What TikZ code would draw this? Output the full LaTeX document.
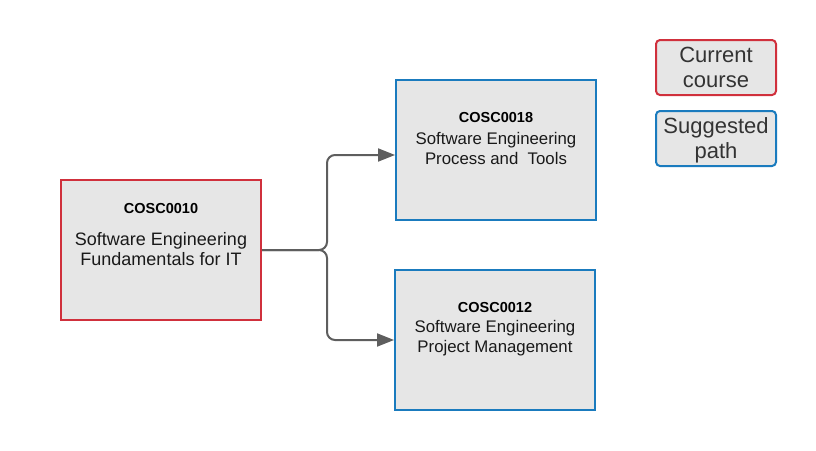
\documentclass[tikz,border=0pt]{standalone}
\usepackage{fontspec}
\setmainfont{Liberation Sans}
\usepackage{tikz}
\usetikzlibrary{arrows.meta}
\definecolor{coursered}{HTML}{D0303C}
\definecolor{pathblue}{HTML}{1A7BBE}
\definecolor{boxgray}{HTML}{E6E6E6}
\definecolor{linegray}{HTML}{5E5E5E}
\tikzstyle{current} = [rectangle, minimum width=200pt, minimum height=140pt, draw=coursered, line width=2pt, fill=boxgray]
\tikzstyle{suggested} = [rectangle, minimum width=200pt, minimum height=140pt, draw=pathblue, line width=2pt, fill=boxgray]
\tikzstyle{code} = [font=\bfseries\fontsize{14.5}{16}\selectfont]
\tikzstyle{title} = [align=center, text=black!90]
\tikzstyle{legend} = [rectangle, rounded corners=4pt, minimum width=120pt, minimum height=55pt, line width=2pt, fill=boxgray, align=center, text=black!80, font=\fontsize{22}{25}\selectfont]
\tikzstyle{arrow} = [-{Triangle[length=17pt,width=13pt]}, draw=linegray, line width=2pt, rounded corners=8pt]

\begin{document}
\begin{tikzpicture}[x=1pt, y=-1pt, node distance=335pt]
	\useasboundingbox (0,0) rectangle (816,450);
	% course boxes
	\node (FUND) [current] at (161,250) {};
	\node (PROC) [suggested, right of=FUND, yshift=100pt] {};
	\node (SEPM) [suggested, right of=FUND, xshift=-1pt, yshift=-90pt] {};
	\node (FUND-c) [code] at ([yshift=-30pt]FUND.north) {COSC0010};
	\node (FUND-t) [title, font=\fontsize{18}{20}\selectfont] at ([yshift=-70pt]FUND.north) {Software Engineering\\Fundamentals for IT};
	\node (PROC-c) [code] at ([yshift=-39pt]PROC.north) {COSC0018};
	\node (PROC-t) [title, font=\fontsize{16.8}{20}\selectfont] at ([yshift=-69pt]PROC.north) {Software Engineering\\Process and\ \ Tools};
	\node (SEPM-c) [code] at ([yshift=-39pt]SEPM.north) {COSC0012};
	\node (SEPM-t) [title, font=\fontsize{16.8}{20}\selectfont] at ([yshift=-69pt]SEPM.north) {Software Engineering\\Project Management};
	% legend
	\node (LCUR) [legend, draw=coursered, text depth=-2pt] at (716,67.5) {Current\\course};
	\node (LSUG) [legend, draw=pathblue, text depth=-2pt] at (716,138.5) {Suggested\\path};
	% paths
	\coordinate (split) at (327,250);
	\draw [arrow] (FUND.east) -- (split) |- ([yshift=-5pt]PROC.west);
	\draw [arrow] (FUND.east) -- (split) |- (SEPM.west);
\end{tikzpicture}
\end{document}
